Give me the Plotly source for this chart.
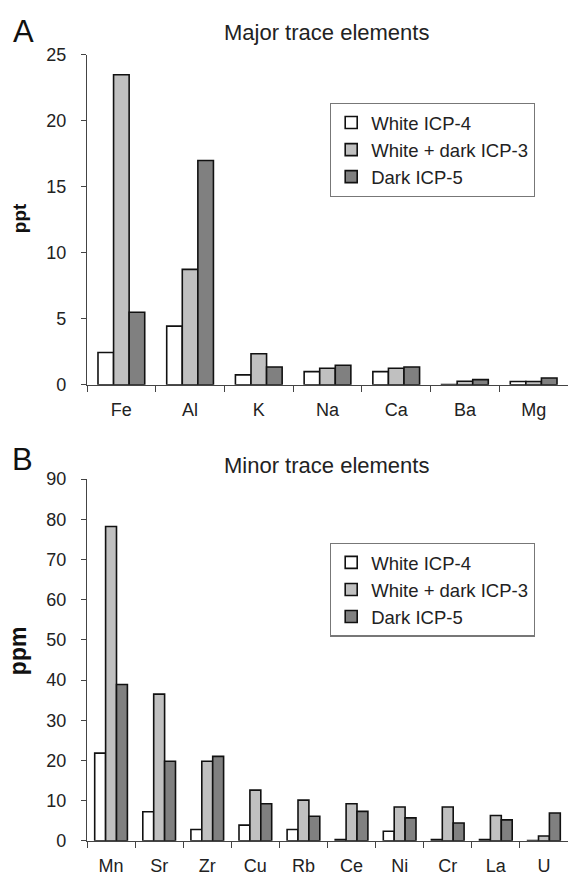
import plotly.graph_objects as go

# Panel A data (ppt)
major_elements = ["Fe", "Al", "K", "Na", "Ca", "Ba", "Mg"]
major_white = [2.45, 4.45, 0.75, 1.0, 1.0, 0.02, 0.25]
major_mixed = [23.5, 8.75, 2.35, 1.25, 1.25, 0.27, 0.25]
major_dark = [5.5, 17.0, 1.35, 1.48, 1.35, 0.39, 0.52]

# Panel B data (ppm)
minor_elements = ["Mn", "Sr", "Zr", "Cu", "Rb", "Ce", "Ni", "Cr", "La", "U"]
minor_white = [21.8, 7.2, 2.8, 3.9, 2.8, 0.3, 2.35, 0.3, 0.3, 0.05]
minor_mixed = [78.2, 36.5, 19.8, 12.6, 10.1, 9.2, 8.4, 8.4, 6.3, 1.2]
minor_dark = [38.9, 19.8, 21.0, 9.2, 6.1, 7.3, 5.7, 4.4, 5.2, 6.9]

series_names = ["White ICP-4", "White + dark ICP-3", "Dark ICP-5"]
series_colors = ["#ffffff", "#c0c0c0", "#808080"]

FONT = "Liberation Sans, Arial, sans-serif"
W, H = 568, 883

fig = go.Figure()

for name, vals, col in zip(series_names, [major_white, major_mixed, major_dark], series_colors):
    fig.add_trace(go.Bar(x=major_elements, y=vals, name=name, marker=dict(color=col, line=dict(color="#111", width=1.6)),
                         xaxis="x", yaxis="y", legend="legend"))
for name, vals, col in zip(series_names, [minor_white, minor_mixed, minor_dark], series_colors):
    fig.add_trace(go.Bar(x=minor_elements, y=vals, name=name, marker=dict(color=col, line=dict(color="#111", width=1.6)),
                         xaxis="x2", yaxis="y2", legend="legend2"))

def py(pix):
    return 1 - pix / H

xdom = [87 / W, 1.0]
axis_common = dict(showline=True, linecolor="#444", linewidth=1.4, showgrid=False, zeroline=False,
                   ticks="outside", tickcolor="#444", tickwidth=1.4,
                   tickfont=dict(family=FONT, size=18, color="#222"))

legend_style = dict(xanchor="left", yanchor="top", bgcolor="white",
                    bordercolor="#777", borderwidth=1.2, font=dict(family=FONT, size=18.5, color="#222"),
                    tracegroupgap=0)

fig.update_layout(
    width=W, height=H,
    margin=dict(l=0, r=0, t=0, b=0),
    paper_bgcolor="white", plot_bgcolor="white",
    barmode="group", bargap=0.32, bargroupgap=0,
    font=dict(family=FONT, color="#222"),
    xaxis=dict(domain=xdom, anchor="y", tickson="boundaries", ticklen=6, ticklabelstandoff=8, **axis_common),
    yaxis=dict(domain=[py(383.5), py(46)], anchor="x", range=[0, 25], tickvals=[0, 5, 10, 15, 20, 25],
               ticklen=5, ticklabelstandoff=11, **axis_common),
    xaxis2=dict(domain=xdom, anchor="y2", tickson="boundaries", ticklen=6, ticklabelstandoff=8, **axis_common),
    yaxis2=dict(domain=[py(850), py(480)], anchor="x2", range=[0, 90], tickvals=list(range(0, 91, 10)),
                ticklen=5, ticklabelstandoff=11, **axis_common),
    legend=dict(x=330 / W, y=py(95), **legend_style),
    legend2=dict(x=330 / W, y=py(545), **legend_style),
    showlegend=True,
    annotations=[
        dict(text="A", x=11 / W, y=py(22), xref="paper", yref="paper", xanchor="left", yanchor="middle",
             showarrow=False, font=dict(family=FONT, size=31, color="#111")),
        dict(text="B", x=10 / W, y=py(460), xref="paper", yref="paper", xanchor="left", yanchor="middle",
             showarrow=False, font=dict(family=FONT, size=31, color="#111")),
        dict(text="Major trace elements", x=326 / W, y=py(23), xref="paper", yref="paper", xanchor="center",
             yanchor="middle", showarrow=False, font=dict(family=FONT, size=22, color="#222")),
        dict(text="Minor trace elements", x=326 / W, y=py(466), xref="paper", yref="paper", xanchor="center",
             yanchor="middle", showarrow=False, font=dict(family=FONT, size=22, color="#222")),
        dict(text="<b>ppt</b>", x=19 / W, y=py(213), xref="paper", yref="paper", xanchor="center",
             yanchor="middle", textangle=-90, showarrow=False, font=dict(family=FONT, size=19, color="#111")),
        dict(text="<b>ppm</b>", x=18 / W, y=py(656), xref="paper", yref="paper", xanchor="center",
             yanchor="middle", textangle=-90, showarrow=False, font=dict(family=FONT, size=23, color="#111")),
    ],
)

fig.write_html("out.html", config={"displayModeBar": False},
               post_script="document.body.style.margin='0';document.body.style.overflow='hidden';")
